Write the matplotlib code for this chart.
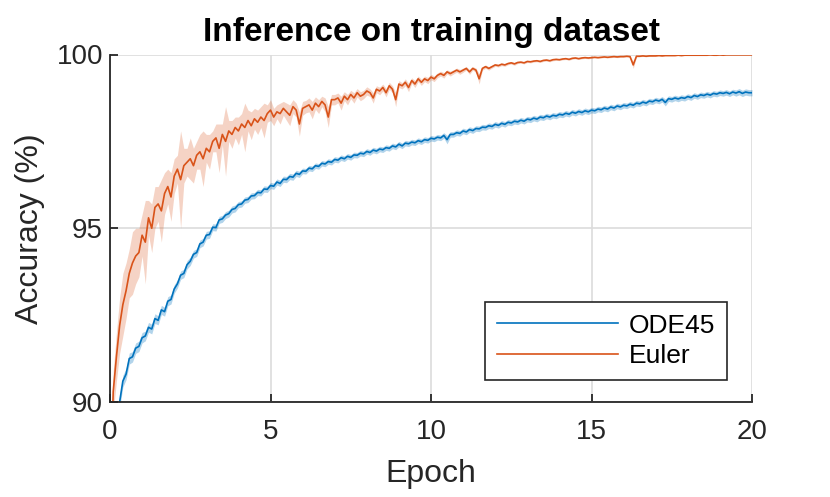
import numpy as np
import matplotlib
matplotlib.use("Agg")
import matplotlib.pyplot as plt

plt.rcParams['font.family'] = ['Liberation Sans', 'DejaVu Sans']

# epochs sampled every 0.1 from 0 to 20
epochs = np.arange(201) / 10.0

# Euler: mean accuracy (%)
euler_mean = [
    87.0, 90.3, 91.3, 92.2, 92.8, 93.2, 93.7, 94.0, 94.2, 94.3,
    94.8, 94.6, 95.3, 95.0, 95.6, 95.7, 95.5, 96.0, 96.2, 95.9,
    96.5, 96.7, 96.4, 96.8, 96.9, 97.0, 96.8, 97.1, 97.2, 97.0,
    97.3, 97.2, 97.5, 97.6, 97.3, 97.7, 97.5, 97.8, 97.7, 97.9,
    97.8, 98.0, 97.9, 98.1, 97.95, 98.15, 98.05, 98.2, 98.1, 98.3,
    98.4, 98.2, 98.35, 98.3, 98.45, 98.35, 98.25, 98.5, 98.4, 98.0,
    98.45, 98.5, 98.55, 98.4, 98.6, 98.5, 98.65, 98.55, 98.2, 98.7,
    98.7, 98.75, 98.6, 98.8, 98.7, 98.85, 98.75, 98.9, 98.8, 98.85,
    98.95, 98.9, 98.75, 99.0, 98.95, 99.05, 98.9, 99.1, 99.0, 98.7,
    99.15, 99.1, 99.2, 99.05, 99.25, 99.15, 99.3, 99.2, 99.3, 99.25,
    99.35, 99.3, 99.4, 99.45, 99.4, 99.5, 99.45, 99.5, 99.55, 99.5,
    99.55, 99.6, 99.5, 99.6, 99.55, 99.3, 99.6, 99.65, 99.6, 99.65,
    99.7, 99.68, 99.72, 99.7, 99.74, 99.76, 99.73, 99.77, 99.78, 99.76,
    99.8, 99.79, 99.81, 99.82, 99.8, 99.83, 99.84, 99.82, 99.85, 99.86,
    99.85, 99.87, 99.88, 99.86, 99.89, 99.9, 99.88, 99.9, 99.91, 99.9,
    99.91, 99.92, 99.91, 99.92, 99.93, 99.92, 99.93, 99.94, 99.93, 99.94,
    99.94, 99.95, 99.94, 99.7, 99.95, 99.95, 99.96, 99.95, 99.96, 99.96,
    99.96, 99.97, 99.96, 99.97, 99.97, 99.97, 99.97, 99.98, 99.97, 99.98,
    99.98, 99.98, 99.98, 99.98, 99.98, 99.98, 99.98, 99.99, 99.98, 99.98,
    99.99, 99.98, 99.99, 99.99, 99.99, 99.99, 99.99, 99.99, 99.99, 99.99,
    99.99,
]

# Euler: spread of the shaded band
euler_std = [
    0.6, 0.6, 0.7, 0.8, 0.9, 0.8, 0.7, 0.9, 0.8, 0.7,
    0.6, 1.2, 0.5, 0.7, 0.6, 0.5, 0.9, 0.6, 0.5, 0.7,
    0.5, 0.4, 1.4, 0.5, 0.4, 0.6, 0.5, 0.4, 0.5, 0.8,
    0.4, 0.5, 0.3, 0.4, 0.7, 0.3, 1.0, 0.3, 0.4, 0.3,
    0.4, 0.3, 0.7, 0.3, 0.4, 0.3, 0.35, 0.3, 0.5, 0.25,
    0.3, 0.25, 0.2, 0.3, 0.2, 0.25, 0.3, 0.2, 0.2, 0.35,
    0.2, 0.18, 0.2, 0.25, 0.18, 0.2, 0.15, 0.2, 0.3, 0.15,
    0.15, 0.14, 0.2, 0.13, 0.15, 0.12, 0.15, 0.12, 0.13, 0.12,
    0.12, 0.11, 0.15, 0.1, 0.11, 0.1, 0.12, 0.1, 0.1, 0.2,
    0.1, 0.09, 0.1, 0.12, 0.08, 0.1, 0.08, 0.09, 0.08, 0.09,
    0.08, 0.08, 0.07, 0.07, 0.08, 0.06, 0.07, 0.06, 0.06, 0.07,
    0.06, 0.05, 0.07, 0.05, 0.06, 0.15, 0.05, 0.05, 0.05, 0.04,
    0.04, 0.04, 0.04, 0.04, 0.035, 0.035, 0.04, 0.03, 0.03, 0.03,
    0.03, 0.03, 0.03, 0.03, 0.03, 0.03, 0.03, 0.03, 0.03, 0.03,
    0.025, 0.025, 0.025, 0.025, 0.025, 0.025, 0.025, 0.025, 0.025, 0.025,
    0.02, 0.02, 0.02, 0.02, 0.02, 0.02, 0.02, 0.02, 0.02, 0.02,
    0.02, 0.02, 0.02, 0.1, 0.02, 0.015, 0.015, 0.015, 0.015, 0.015,
    0.01, 0.01, 0.01, 0.01, 0.01, 0.01, 0.01, 0.01, 0.01, 0.01,
    0.01, 0.01, 0.01, 0.01, 0.01, 0.01, 0.01, 0.01, 0.01, 0.01,
    0.01, 0.01, 0.01, 0.01, 0.01, 0.01, 0.01, 0.01, 0.01, 0.01,
    0.01,
]

# ODE45: mean accuracy (%)
ode45_mean = [
    87.5, 88.5, 89.3, 90.0, 90.6, 90.8, 91.25, 91.3, 91.55, 91.6,
    91.85, 91.9, 92.15, 92.1, 92.4, 92.35, 92.65, 92.6, 92.9, 92.95,
    93.25, 93.4, 93.65, 93.7, 93.95, 94.05, 94.25, 94.3, 94.55, 94.6,
    94.8, 94.82, 95.03, 95.02, 95.24, 95.27, 95.38, 95.42, 95.54, 95.57,
    95.68, 95.7, 95.81, 95.83, 95.93, 95.94, 96.03, 96.02, 96.13, 96.12,
    96.23, 96.21, 96.33, 96.29, 96.41, 96.4, 96.49, 96.47, 96.58, 96.55,
    96.65, 96.64, 96.73, 96.71, 96.8, 96.78, 96.87, 96.85, 96.92, 96.9,
    96.98, 96.96, 97.03, 97.0, 97.07, 97.04, 97.11, 97.1, 97.16, 97.14,
    97.21, 97.18, 97.25, 97.22, 97.28, 97.26, 97.32, 97.3, 97.37, 97.34,
    97.42, 97.37, 97.45, 97.43, 97.48, 97.46, 97.52, 97.49, 97.55, 97.53,
    97.59, 97.57, 97.62, 97.6, 97.67, 97.55, 97.7, 97.7, 97.75, 97.73,
    97.8, 97.77, 97.84, 97.81, 97.87, 97.86, 97.91, 97.9, 97.95, 97.93,
    97.99, 97.96, 98.02, 97.99, 98.05, 98.03, 98.08, 98.06, 98.11, 98.08,
    98.14, 98.12, 98.17, 98.14, 98.2, 98.18, 98.23, 98.2, 98.25, 98.23,
    98.28, 98.26, 98.31, 98.28, 98.34, 98.31, 98.36, 98.33, 98.38, 98.35,
    98.4, 98.38, 98.43, 98.41, 98.46, 98.43, 98.49, 98.46, 98.52, 98.49,
    98.54, 98.52, 98.57, 98.54, 98.6, 98.58, 98.63, 98.6, 98.66, 98.64,
    98.69, 98.66, 98.71, 98.62, 98.73, 98.71, 98.75, 98.72, 98.76, 98.74,
    98.79, 98.76, 98.82, 98.79, 98.84, 98.82, 98.86, 98.83, 98.88, 98.86,
    98.9, 98.88, 98.91, 98.87, 98.92, 98.89, 98.93, 98.88, 98.92, 98.9,
    98.9,
]

# ODE45: spread of the shaded band
ode45_std = [
    0.18, 0.18, 0.18, 0.17, 0.17, 0.16, 0.16, 0.15, 0.15, 0.15,
    0.15, 0.14, 0.14, 0.14, 0.14, 0.13, 0.13, 0.13, 0.13, 0.13,
    0.12, 0.12, 0.12, 0.12, 0.12, 0.12, 0.11, 0.11, 0.11, 0.11,
    0.11, 0.11, 0.1, 0.1, 0.1, 0.1, 0.1, 0.1, 0.1, 0.1,
    0.09, 0.09, 0.09, 0.09, 0.09, 0.09, 0.09, 0.09, 0.09, 0.09,
    0.09, 0.09, 0.09, 0.09, 0.09, 0.09, 0.09, 0.09, 0.09, 0.09,
    0.08, 0.08, 0.08, 0.08, 0.08, 0.08, 0.08, 0.08, 0.08, 0.08,
    0.08, 0.08, 0.08, 0.08, 0.08, 0.08, 0.08, 0.08, 0.08, 0.08,
    0.08, 0.08, 0.08, 0.08, 0.08, 0.08, 0.08, 0.08, 0.08, 0.08,
    0.08, 0.08, 0.08, 0.08, 0.08, 0.08, 0.08, 0.08, 0.08, 0.08,
    0.08, 0.08, 0.08, 0.08, 0.08, 0.12, 0.08, 0.08, 0.08, 0.08,
    0.08, 0.08, 0.08, 0.08, 0.08, 0.08, 0.08, 0.08, 0.08, 0.08,
    0.08, 0.08, 0.08, 0.08, 0.08, 0.08, 0.08, 0.08, 0.08, 0.08,
    0.08, 0.08, 0.08, 0.08, 0.08, 0.08, 0.08, 0.08, 0.08, 0.08,
    0.08, 0.08, 0.08, 0.08, 0.08, 0.08, 0.08, 0.08, 0.08, 0.08,
    0.08, 0.08, 0.08, 0.08, 0.08, 0.08, 0.08, 0.08, 0.08, 0.08,
    0.08, 0.08, 0.08, 0.08, 0.08, 0.08, 0.08, 0.08, 0.08, 0.08,
    0.08, 0.08, 0.08, 0.1, 0.08, 0.08, 0.08, 0.08, 0.08, 0.08,
    0.08, 0.08, 0.08, 0.08, 0.08, 0.08, 0.08, 0.08, 0.08, 0.08,
    0.08, 0.08, 0.08, 0.08, 0.08, 0.09, 0.09, 0.09, 0.09, 0.09,
    0.09,
]

x_ticks = [0, 5, 10, 15, 20]
y_ticks = [90, 95, 100]

blue = '#0072BD'
orange = '#D95319'
axis_col = '#262626'

fig = plt.figure(figsize=(8.3, 4.97), dpi=100)
ax = fig.add_axes([110 / 830, 1 - 402 / 497, 642 / 830, 347.5 / 497])

e_mean = np.array(euler_mean)
e_std = np.array(euler_std)
o_mean = np.array(ode45_mean)
o_std = np.array(ode45_std)

ax.fill_between(epochs, o_mean - o_std, o_mean + o_std, color=blue, alpha=0.3, lw=0)
ax.fill_between(epochs, e_mean - e_std, e_mean + e_std, color=orange, alpha=0.25, lw=0)
ax.plot(epochs, o_mean, color=blue, lw=1.2, label='ODE45')
ax.plot(epochs, e_mean, color=orange, lw=1.2, label='Euler')

ax.set_xlim(0, 20)
ax.set_ylim(90, 100)
ax.set_xticks(x_ticks)
ax.set_yticks(y_ticks)
ax.grid(True, color='#dcdcdc', lw=1.2)
ax.set_axisbelow(True)

for s in ['top', 'right']:
    ax.spines[s].set_visible(False)
for s in ['left', 'bottom']:
    ax.spines[s].set_color(axis_col)
    ax.spines[s].set_linewidth(1.3)
ax.tick_params(direction='in', length=6, width=1.3, colors=axis_col, labelsize=20)
ax.tick_params(axis='x', pad=12)
ax.tick_params(axis='y', pad=5)

ax.set_xlabel('Epoch', fontsize=23, color=axis_col, labelpad=10)
ax.set_ylabel('Accuracy (%)', fontsize=23, color=axis_col, labelpad=8)
ax.set_title('Inference on training dataset', fontsize=24, fontweight='bold', pad=10)

leg = ax.legend(loc='lower right', bbox_to_anchor=(617 / 642, 22 / 347.5),
                borderaxespad=0, fontsize=19, handlelength=4.6, handletextpad=0.4,
                borderpad=0.45, labelspacing=0.25, fancybox=False, framealpha=1)
leg.get_frame().set_edgecolor(axis_col)
leg.get_frame().set_linewidth(1.2)

fig.savefig('out.png', dpi=100)
